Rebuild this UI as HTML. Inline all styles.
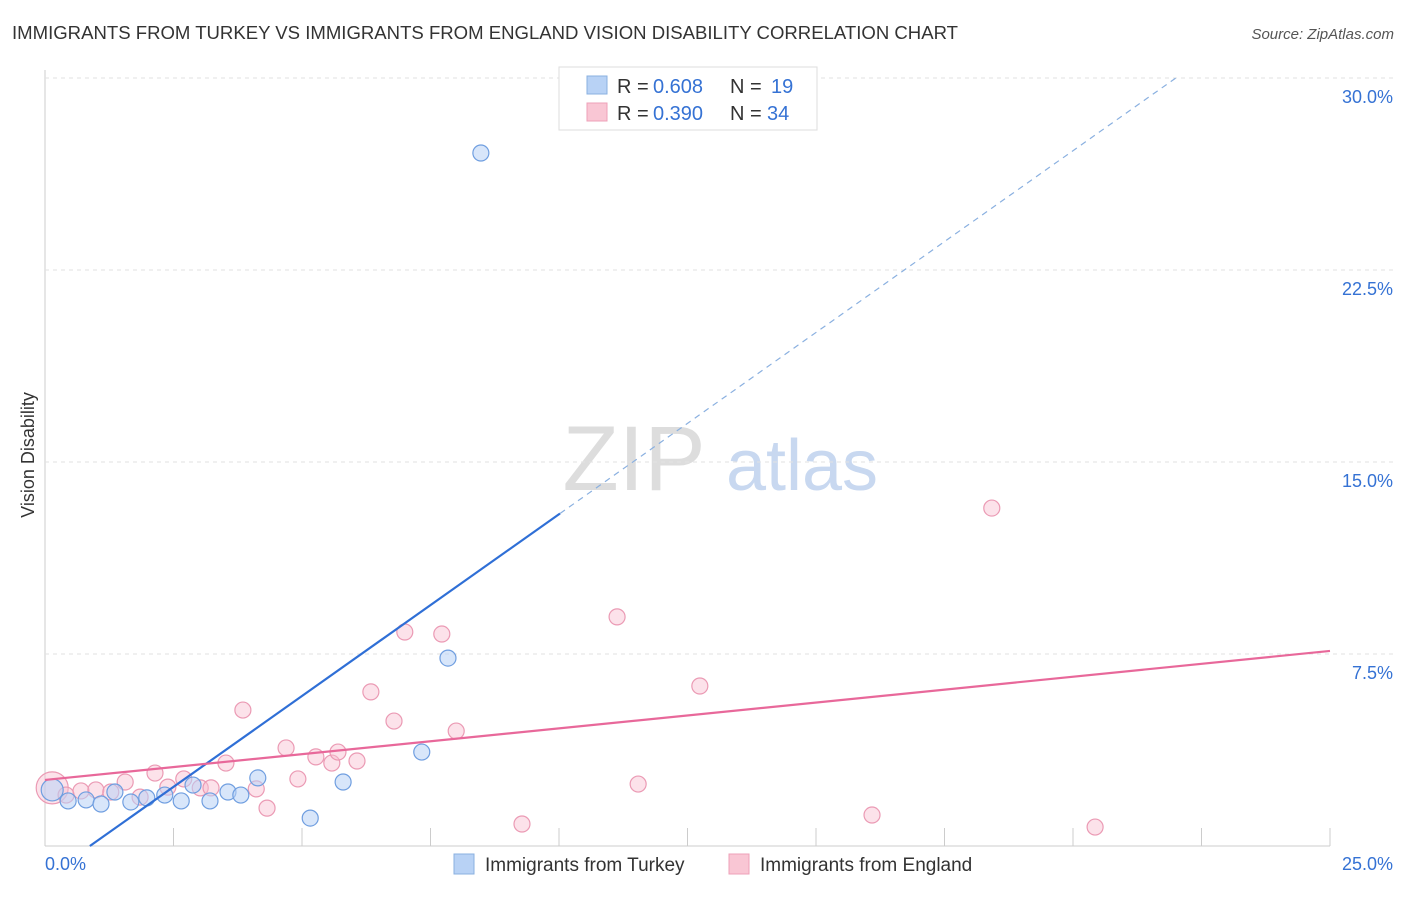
<!DOCTYPE html>
<html><head><meta charset="utf-8"><style>
body{margin:0;background:#fff;font-family:"Liberation Sans",sans-serif}
svg text{font-family:"Liberation Sans",sans-serif}
</style></head><body>
<svg id="c" width="1406" height="892" xmlns="http://www.w3.org/2000/svg">
<text x="12" y="39" font-size="18" fill="#333" textLength="946" lengthAdjust="spacingAndGlyphs">IMMIGRANTS FROM TURKEY VS IMMIGRANTS FROM ENGLAND VISION DISABILITY CORRELATION CHART</text>
<text x="1394" y="39" font-size="15" fill="#555" text-anchor="end" font-style="italic">Source: ZipAtlas.com</text>
<text x="34" y="455" font-size="18" fill="#333" text-anchor="middle" transform="rotate(-90 34 455)">Vision Disability</text>
<g><text x="634" y="490" font-size="92" fill="#ddd" text-anchor="middle" font-family="Liberation Serif">ZIP</text><text x="802" y="490" font-size="72" fill="#c8d8f0" text-anchor="middle">atlas</text></g>
<g id="grid"></g><g id="marks"></g>
<g>
<rect x="559" y="67" width="258" height="63" fill="#fff" stroke="#ddd"/>
<rect x="587" y="76" width="20" height="18" fill="#b8d2f5" stroke="#8ab0e0"/>
<rect x="587" y="103" width="20" height="18" fill="#f9c6d4" stroke="#eea0b8"/>
<text x="617" y="93" font-size="20" fill="#333">R =</text><text x="653" y="93" font-size="20" fill="#3572d4">0.608</text>
<text x="730" y="93" font-size="20" fill="#333">N =</text><text x="771" y="93" font-size="20" fill="#3572d4">19</text>
<text x="617" y="120" font-size="20" fill="#333">R =</text><text x="653" y="120" font-size="20" fill="#3572d4">0.390</text>
<text x="730" y="120" font-size="20" fill="#333">N =</text><text x="767" y="120" font-size="20" fill="#3572d4">34</text>
</g>
<g>
<rect x="454" y="854" width="20" height="20" fill="#b8d2f5" stroke="#8ab0e0"/>
<text x="485" y="871" font-size="19" fill="#333">Immigrants from Turkey</text>
<rect x="729" y="854" width="20" height="20" fill="#f9c6d4" stroke="#eea0b8"/>
<text x="760" y="871" font-size="19" fill="#333">Immigrants from England</text>
</g>
</svg>
<script>
const turkeyX=[0.14,0.45,0.80,1.09,1.36,1.67,1.98,2.33,2.65,2.88,3.21,3.56,3.81,4.14,5.16,5.80,7.33,7.84,8.48];
const turkeyY=[2.19,1.76,1.80,1.64,2.11,1.72,1.88,1.99,1.76,2.38,1.76,2.11,1.99,2.66,1.09,2.50,3.67,7.34,27.07];
const englandX=[0.14,0.41,0.70,0.99,1.28,1.56,1.85,2.14,2.39,2.70,3.02,3.23,3.52,3.85,4.11,4.32,4.69,4.92,5.27,5.58,5.70,6.07,6.34,6.79,7.00,7.72,8.00,9.28,11.13,11.54,12.74,16.09,18.42,20.43];
const englandY=[2.27,1.99,2.15,2.19,2.11,2.50,1.91,2.85,2.30,2.62,2.27,2.27,3.24,5.31,2.23,1.48,3.83,2.62,3.48,3.24,3.67,3.32,6.02,4.88,8.36,8.28,4.49,0.86,8.95,2.42,6.25,1.21,13.20,0.74];
const yTicks=[7.5,15,22.5,30];
const yTickLabels=["7.5%","15.0%","22.5%","30.0%"];
const xTicks=[0,2.5,5,7.5,10,12.5,15,17.5,20,22.5,25];
const turkeyTrend=[1.42,-1.24];
const englandTrend=[0.2016,2.58];
const NS="http://www.w3.org/2000/svg";
const X=v=>45+v*51.4, Y=v=>846-v*25.6;
function mk(t,a,p){const e=document.createElementNS(NS,t);for(const k in a)e.setAttribute(k,a[k]);p.appendChild(e);return e;}
const g=document.getElementById('grid'),m=document.getElementById('marks');
mk('line',{x1:45,y1:70,x2:45,y2:846,stroke:'#ccc'},g);
mk('line',{x1:45,y1:846,x2:1330,y2:846,stroke:'#ccc'},g);
yTicks.forEach((t,i)=>{
 const l=mk('line',{x1:45,y1:Y(t),x2:1394,y2:Y(t),stroke:'#e2e2e2','stroke-dasharray':'4,4'},g);
 
 
 const tx=mk('text',{x:1393,y:Y(t)+25,'font-size':18,fill:'#3572d4','text-anchor':'end'},g);tx.textContent=yTickLabels[i];
 
 
});
xTicks.forEach(t=>{const l=mk('line',{x1:X(t),y1:828,x2:X(t),y2:846,stroke:'#ccc'},g);
 
 });
let a=mk('text',{x:45,y:870,'font-size':18,fill:'#3572d4'},g);a.textContent='0.0%';


a=mk('text',{x:1393,y:870,'font-size':18,fill:'#3572d4','text-anchor':'end'},g);a.textContent='25.0%';


englandX.forEach((x,i)=>{const c=mk('circle',{cx:X(x),cy:Y(englandY[i]),r:i==0?16:8,fill:'rgba(249,190,208,0.45)',stroke:'#eb9ab4','stroke-width':1.2},m);
 
 });
turkeyX.forEach((x,i)=>{const c=mk('circle',{cx:X(x),cy:Y(turkeyY[i]),r:i==0?11:8,fill:'rgba(184,210,245,0.55)',stroke:'#6f9ee0','stroke-width':1.2},m);
 
 });
const x0=-turkeyTrend[1]/turkeyTrend[0], xm=10.02, xe=(30.1-turkeyTrend[1])/turkeyTrend[0];
let l=mk('line',{x1:X(x0),y1:Y(0),x2:X(xm),y2:Y(turkeyTrend[0]*xm+turkeyTrend[1]),stroke:'#2f6fd6','stroke-width':2.2},m);


l=mk('line',{x1:X(xm),y1:Y(turkeyTrend[0]*xm+turkeyTrend[1]),x2:X(xe),y2:Y(turkeyTrend[0]*xe+turkeyTrend[1]),stroke:'#8ab0e0','stroke-width':1.2,'stroke-dasharray':'6,5'},m);


l=mk('line',{x1:X(0),y1:Y(englandTrend[1]),x2:X(25),y2:Y(englandTrend[0]*25+englandTrend[1]),stroke:'#e8689a','stroke-width':2.2},m);


</script>
</body></html>
